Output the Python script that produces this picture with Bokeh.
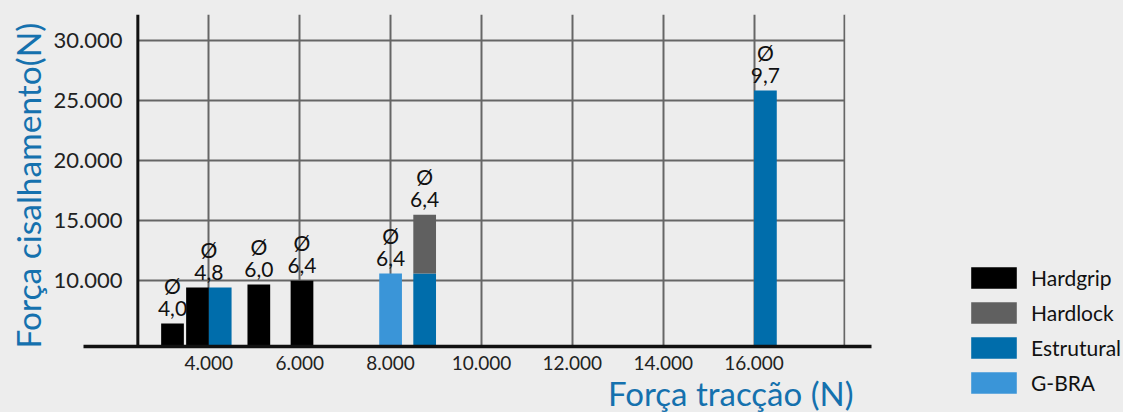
import math
from bokeh.plotting import figure
from bokeh.layouts import row
from bokeh.models import (Range1d, FixedTicker, Title, Legend, LegendItem,
                          ColumnDataSource, BoxAnnotation, Span)
from bokeh.core.properties import value
from bokeh.embed import file_html
from bokeh.resources import INLINE

# ---------------- data ----------------
x_ticks = [4000, 6000, 8000, 10000, 12000, 14000, 16000]
x_tick_labels = ["4.000", "6.000", "8.000", "10.000", "12.000", "14.000", "16.000"]
x_grid_ticks = [4000, 6000, 8000, 10000, 12000, 14000, 16000, 18000]
y_ticks = [10000, 15000, 20000, 25000, 30000]
y_tick_labels = ["10.000", "15.000", "20.000", "25.000", "30.000"]

series_names = ["Hardgrip", "Hardlock", "Estrutural", "G-BRA"]
series_colors = ["#000000", "#606060", "#006dab", "#3a95d8"]

hardgrip_x = [3200, 3750, 5100, 6050]
hardgrip_y = [6450, 9450, 9700, 10000]
hardlock_x = [8750]
hardlock_base = [10600]
hardlock_y = [15500]
estrutural_x = [4250, 8750, 16250]
estrutural_y = [9450, 10600, 25850]
gbra_x = [8000]
gbra_y = [10600]

diam_labels = ["4,0", "4,8", "6,0", "6,4", "6,4", "6,4", "9,7"]

# label anchors taken from the bars they sit on
lab_x = [hardgrip_x[0], (hardgrip_x[1] + estrutural_x[0]) / 2, hardgrip_x[2],
         hardgrip_x[3], gbra_x[0], hardlock_x[0], estrutural_x[2]]
lab_y = [hardgrip_y[0], max(hardgrip_y[1], estrutural_y[0]), hardgrip_y[2],
         hardgrip_y[3], gbra_y[0], hardlock_y[0], estrutural_y[2]]

FONT = "Lato"
BG = "#ededed"
BLUE = "#1571ae"
Y_AXIS_AT = 2437      # x position of the vertical axis line
GRID_END = 18010      # right end of horizontal grid lines


def no_frame_align(fig):
    if "frame_align" in fig.properties():
        fig.frame_align = False


# ---------------- main chart ----------------
p = figure(width=900, height=412, title=None,
           x_range=Range1d(1241, 18585), y_range=Range1d(4525, 32192),
           output_backend="svg", toolbar_location=None,
           min_border_left=83, min_border_right=29,
           min_border_top=14, min_border_bottom=66)
no_frame_align(p)
p.background_fill_color = BG
p.border_fill_color = BG
p.outline_line_color = None

# grids
p.xgrid.ticker = FixedTicker(ticks=x_grid_ticks)
p.ygrid.ticker = FixedTicker(ticks=y_ticks)
for g in (p.xgrid, p.ygrid):
    g.grid_line_color = "#666666"
    g.grid_line_width = 2
    g.grid_line_alpha = 1
yg = p.ygrid[0]
if "cross_bounds" in yg.properties():
    yg.cross_bounds = (Y_AXIS_AT, x_grid_ticks[-1])

# hide grid outside the plotted region
p.add_layout(BoxAnnotation(left=0, right=Y_AXIS_AT, bottom=0, top=40000,
                           fill_color=BG, fill_alpha=1,
                           line_color=None, level="underlay"))
p.add_layout(BoxAnnotation(left=GRID_END, right=20000, bottom=0, top=40000,
                           fill_color=BG, fill_alpha=1,
                           line_color=None, level="underlay"))

# x axis
xa = p.xaxis[0]
xa.ticker = FixedTicker(ticks=x_ticks)
xa.major_label_overrides = dict(zip(x_ticks, x_tick_labels))
xa.axis_line_color = "#111111"
xa.axis_line_width = 3.5
xa.major_tick_line_color = None
xa.minor_tick_line_color = None
xa.major_label_text_font = FONT
xa.major_label_text_font_size = "19px"
xa.major_label_text_color = "#222222"
xa.major_label_standoff = 3

# y axis (labels only; the line is drawn with a Span)
ya = p.yaxis[0]
ya.ticker = FixedTicker(ticks=y_ticks)
ya.major_label_overrides = dict(zip(y_ticks, y_tick_labels))
ya.axis_line_color = None
ya.major_tick_line_color = None
ya.minor_tick_line_color = None
ya.major_label_text_font = FONT
ya.major_label_text_font_size = "22px"
ya.major_label_text_color = "#222222"
ya.major_label_standoff = -45

p.add_layout(Span(location=Y_AXIS_AT, dimension="height",
                  line_color="#111111", line_width=3))

# y axis title
p.add_layout(Title(text="Força cisalhamento(N)", align="left", offset=-2, standoff=6,
                   text_font=FONT, text_font_size="33.5px", text_font_style="normal",
                   text_color=BLUE), "left")

# bars
W = 500
r_hg = p.vbar(x=hardgrip_x, top=hardgrip_y, bottom=0, width=W,
              fill_color=series_colors[0], line_color=None)
r_es = p.vbar(x=estrutural_x, top=estrutural_y, bottom=0, width=W,
              fill_color=series_colors[2], line_color=None)
r_hl = p.vbar(x=hardlock_x, top=hardlock_y, bottom=hardlock_base, width=W,
              fill_color=series_colors[1], line_color=None)
r_gb = p.vbar(x=gbra_x, top=gbra_y, bottom=0, width=W,
              fill_color=series_colors[3], line_color=None)

# diameter labels
src = ColumnDataSource(dict(x=lab_x, y=lab_y, d=diam_labels,
                            phi=["Ø"] * len(diam_labels)))
p.text(x="x", y="y", text="d", source=src, y_offset=-15,
       text_align="center", text_baseline="alphabetic",
       text_font=value(FONT), text_font_size="21px", text_color="#111111")
p.text(x="x", y="y", text="phi", source=src, y_offset=-38,
       text_align="center", text_baseline="alphabetic",
       text_font=value(FONT), text_font_size="21px", text_color="#111111")

# x axis title
p.add_layout(Title(text="Força tracção (N)", align="right", offset=18, standoff=-4,
                   text_font=FONT, text_font_size="33px", text_font_style="normal",
                   text_color=BLUE), "below")

# ---------------- legend panel ----------------
q = figure(width=223, height=412, title=None,
           x_range=Range1d(0, 1), y_range=Range1d(0, 1),
           x_axis_type=None, y_axis_type=None,
           output_backend="svg", toolbar_location=None,
           min_border_left=0, min_border_right=0,
           min_border_top=0, min_border_bottom=0)
no_frame_align(q)
q.background_fill_color = BG
q.border_fill_color = BG
q.outline_line_color = None
q.grid.visible = False

# legend-only renderers (their data lies outside this panel's ranges)
series_data = [(hardgrip_x, hardgrip_y), (hardlock_x, hardlock_y),
               (estrutural_x, estrutural_y), (gbra_x, gbra_y)]
legend_renderers = [q.vbar(x=xs, top=ys, width=W, fill_color=c, line_color=None)
                    for (xs, ys), c in zip(series_data, series_colors)]
legend = Legend(items=[LegendItem(label=n, renderers=[r])
                       for n, r in zip(series_names, legend_renderers)],
                location=(65, 16), orientation="vertical",
                glyph_width=57, glyph_height=27, label_standoff=9, spacing=8,
                padding=0, margin=0, border_line_color=None, background_fill_alpha=0,
                label_text_font=FONT, label_text_font_size="21px",
                label_text_color="#111111")
q.add_layout(legend)

layout = row(p, q)

html = file_html(layout, INLINE)
html = html.replace("<head>", "<head><style>html,body{margin:0;padding:0;background:#ededed;}</style>", 1)
open("out.html", "w").write(html)
